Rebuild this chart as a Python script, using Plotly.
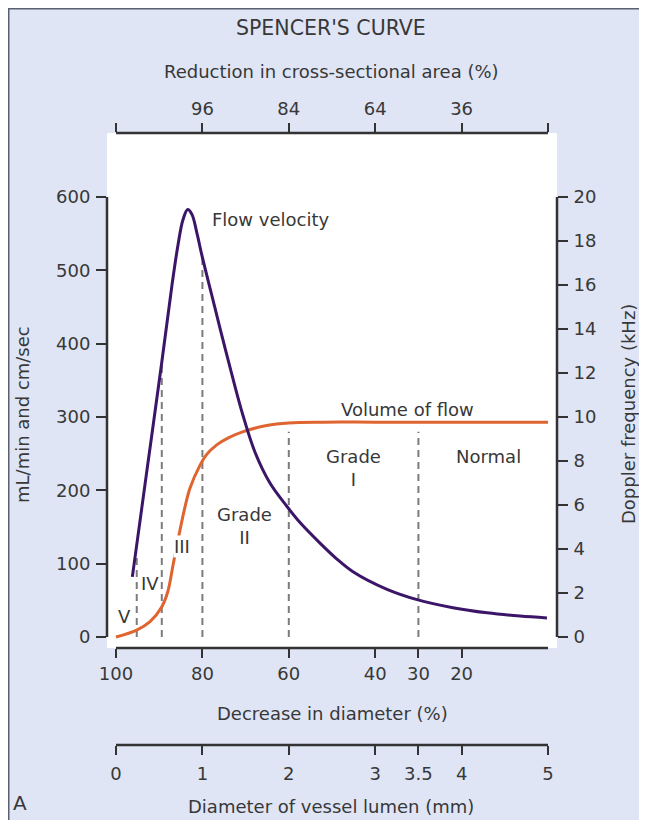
import plotly.graph_objects as go

# ---------------- data ----------------
chart_title = "SPENCER'S CURVE"

# Flow velocity curve (x: diameter of lumen in mm, y: cm/sec)
velocity_mm = [0.189, 0.359, 0.529, 0.648, 0.718, 0.775, 0.830, 0.880, 0.938, 0.995,
               1.111, 1.204, 1.343, 1.470, 1.609, 1.782, 1.979, 2.130, 2.361, 2.550,
               2.743, 3.137, 3.484, 3.900, 4.294, 4.676, 4.988]
velocity_val = [82, 228, 374, 480, 535, 569, 583, 576, 550, 520,
                465, 421, 357, 302, 252, 210, 178, 156, 128, 107,
                89, 65, 51, 40, 33, 28.5, 26]

# Volume of flow curve (mL/min)
volume_mm = [0.0, 0.24, 0.394, 0.529, 0.60, 0.663, 0.741, 0.80, 0.856, 0.972,
             1.05, 1.166, 1.30, 1.473, 1.744, 2.0, 2.4, 3.0, 4.0, 5.0]
volume_val = [0, 9.5, 21, 41, 62, 100, 146, 178, 203, 234,
              249, 262, 271.5, 280, 288.5, 292, 293, 293, 293, 293]

# Stage boundaries (dashed lines)
boundary_mm = [0.24, 0.53, 1.0, 2.0, 3.5]
boundary_top = [115, 372, 520, 280, 280]

# Region labels
region_text = ["V", "IV", "III", "Grade<br>II", "Grade<br>I", "Normal"]
region_mm = [0.10, 0.39, 0.76, 1.485, 2.75, 4.31]
region_val = [28, 73, 123, 152, 231, 246]

# Axes
diam_decrease_tickvals = [0, 1, 2, 3, 3.5, 4]
diam_decrease_ticktext = ["100", "80", "60", "40", "30", "20"]
area_tickvals = [0, 1, 2, 3, 4, 5]
area_ticktext = ["", "96", "84", "64", "36", ""]
lumen_tickvals = [0, 1, 2, 3, 3.5, 4, 5]
lumen_ticktext = ["0", "1", "2", "3", "3.5", "4", "5"]
left_tickvals = [0, 100, 200, 300, 400, 500, 600]
right_tickvals = [0, 2, 4, 6, 8, 10, 12, 14, 16, 18, 20]

# ---------------- styling ----------------
FONT = "DejaVu Sans"
TXT = "#383838"
AX = "#333333"
PURPLE = "#3b1568"
ORANGE = "#e0642f"
DASH = "#7c7c7c"
PANEL = "#dfe5f5"
FS = 18

OFF = 8  # page body margin
W, H = 647 - 2 * OFF, 828 - 2 * OFF
# margins (figure coords)
ML, MR, MT, MB = 107 - OFF, W - (557 - OFF), 133 - OFF, H - (745 - OFF)
PH = H - MT - MB
PW = W - ML - MR


def py(ypx):  # screenshot y -> paper
    return (745 - ypx) / PH


def px(xpx):  # screenshot x -> paper
    return (xpx - 107) / PW


XR = [-0.1042, 5.1042]
YR = [-15, 687.3]
Y2R = [YR[0] / 30, YR[1] / 30]
ydom0 = py(648)

fig = go.Figure()

for bm, bt in zip(boundary_mm, boundary_top):
    fig.add_trace(go.Scatter(x=[bm, bm], y=[0, bt], mode="lines",
                             line=dict(color=DASH, width=2, dash="7px,5px"),
                             hoverinfo="skip", showlegend=False))

fig.add_trace(go.Scatter(x=volume_mm, y=volume_val, mode="lines",
                         line=dict(color=ORANGE, width=3, shape="spline", smoothing=1.0),
                         showlegend=False))
fig.add_trace(go.Scatter(x=velocity_mm, y=velocity_val, mode="lines",
                         line=dict(color=PURPLE, width=3, shape="spline", smoothing=1.0),
                         showlegend=False))

fig.add_trace(go.Scatter(x=[0, 5], y=[0, 20], xaxis="x2", yaxis="y2", mode="none",
                         hoverinfo="skip", showlegend=False))
fig.add_trace(go.Scatter(x=[0, 5], y=[0, 600], xaxis="x3", yaxis="y", mode="none",
                         hoverinfo="skip", showlegend=False))

tickfont = dict(family=FONT, size=FS, color=TXT)
common_x = dict(range=XR, ticks="outside", ticklen=9, tickwidth=2, tickcolor=AX,
                showline=False, showgrid=False, zeroline=False, tickfont=tickfont)
common_y = dict(ticks="outside", ticklen=10, tickwidth=2, tickcolor=AX,
                showline=False, showgrid=False, zeroline=False, tickfont=tickfont,
                ticklabelstandoff=2)

fig.update_layout(
    width=W, height=H,
    margin=dict(l=ML, r=MR, t=MT, b=MB, pad=0),
    paper_bgcolor=PANEL, plot_bgcolor="white",
    showlegend=False,
    font=dict(family=FONT, size=FS, color=TXT),
    xaxis=dict(domain=[0, 1], anchor="y", side="bottom",
               tickvals=diam_decrease_tickvals, ticktext=diam_decrease_ticktext,
               ticklabelstandoff=0, **common_x),
    xaxis2=dict(overlaying="x", anchor="y", side="top",
                tickvals=area_tickvals, ticktext=area_ticktext,
                ticklabelstandoff=1, **common_x),
    xaxis3=dict(overlaying="x", anchor="free", position=0, side="bottom",
                tickvals=lumen_tickvals, ticktext=lumen_ticktext,
                ticklabelstandoff=3, **common_x),
    yaxis=dict(range=YR, domain=[ydom0, 1], anchor="x", side="left",
               tickvals=left_tickvals, **common_y),
    yaxis2=dict(range=Y2R, overlaying="y", anchor="x", side="right",
                tickvals=right_tickvals, **common_y),
)

shapes = []
for yr, yv in (("y domain", 0), ("y domain", 1), ("paper", 0)):
    shapes.append(dict(type="line", xref="x", yref=yr, x0=0, x1=5, y0=yv, y1=yv,
                       line=dict(color=AX, width=2.5)))
for xv in (0, 1):
    shapes.append(dict(type="line", xref="x domain", yref="y", x0=xv, x1=xv, y0=0, y1=600,
                       line=dict(color=AX, width=2.5)))
# panel frame (top and left edges)
shapes.append(dict(type="line", xref="paper", yref="paper", x0=px(OFF), x1=px(647),
                   y0=py(OFF + 0.5), y1=py(OFF + 0.5), line=dict(color="#59606e", width=2)))
shapes.append(dict(type="line", xref="paper", yref="paper", x0=px(OFF + 0.5), x1=px(OFF + 0.5),
                   y0=py(830), y1=py(OFF), line=dict(color="#59606e", width=2)))
fig.update_layout(shapes=shapes)

ann = []


def paper_text(text, x, y, **kw):
    d = dict(text=text, x=px(x), y=py(y), xref="paper", yref="paper", showarrow=False,
             xanchor="center", yanchor="middle")
    d.update(kw)
    ann.append(d)


paper_text(chart_title, 331, 28, font=dict(size=20.5))
paper_text("Reduction in cross-sectional area (%)", 331, 72)
paper_text("Decrease in diameter (%)", 332, 713)
paper_text("Diameter of vessel lumen (mm)", 331, 806)
paper_text("A", 20, 803, font=dict(size=20))
paper_text("mL/min and cm/sec", 22, 415, textangle=-90)
paper_text("Doppler frequency (kHz)", 628, 414, textangle=-90)

ann.append(dict(text="Flow velocity", x=1.09, y=569, xref="x", yref="y", showarrow=False,
                xanchor="left", yanchor="middle"))
ann.append(dict(text="Volume of flow", x=3.37, y=310, xref="x", yref="y", showarrow=False,
                xanchor="center", yanchor="middle"))
for t, m, v in zip(region_text, region_mm, region_val):
    a = dict(text=t, x=m, y=v, xref="x", yref="y", showarrow=False,
             xanchor="center", yanchor="middle")
    if t == "III":
        a["bgcolor"] = "white"
        a["borderpad"] = 0
    ann.append(a)
fig.update_layout(annotations=ann)

fig.write_html("out.html")
